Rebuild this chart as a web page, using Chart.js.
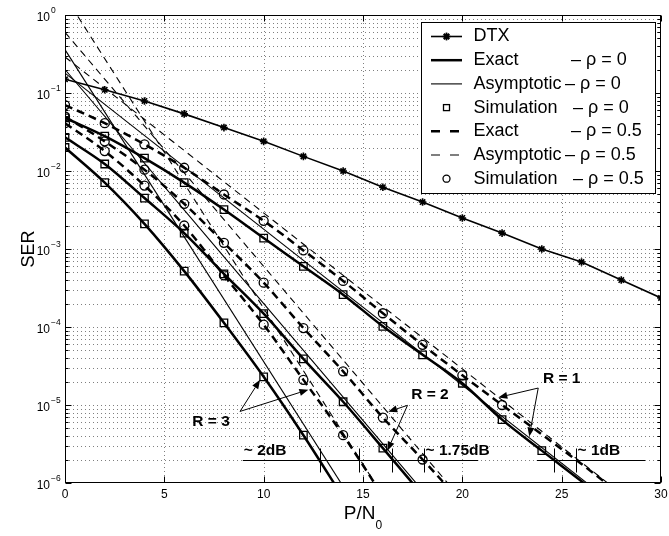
<!DOCTYPE html>
<html>
<head>
<meta charset="utf-8">
<script src="https://cdn.jsdelivr.net/npm/chart.js@4.4.1/dist/chart.umd.min.js"></script>
<style>
  html, body { margin: 0; padding: 0; background: #fff; }
  canvas { display: block; }
</style>
</head>
<body>
<canvas id="c" width="669" height="536"></canvas>
<script>
// ---- data -------------------------------------------------------------
// SNR grid in dB (2 dB steps)
const snrEven = [0, 2, 4, 6, 8, 10, 12, 14, 16, 18, 20, 22, 24, 26, 28, 30];

// DTX reference scheme
const serDtx = [0.15, 0.11, 0.079, 0.054, 0.036, 0.024, 0.0154, 0.0100, 0.0062, 0.0040,
                0.0025, 0.0016, 0.0010, 0.00068, 0.00040, 0.000236];

// Exact SER, rho = 0
const exactR1Rho0 = [0.048, 0.028, 0.0146, 0.0071, 0.0032, 0.00138, 6.0e-4, 2.6e-4, 1.02e-4,
                     4.4e-5, 1.9e-5, 6.5e-6, 2.6e-6, 1.05e-6, 4.2e-7];
const exactR2Rho0 = [0.027, 0.0123, 0.0045, 0.0016, 4.8e-4, 1.48e-4, 3.9e-5, 1.1e-5, 2.8e-6, 7.0e-7];
const exactR3Rho0 = [0.020, 0.0071, 0.0021, 5.2e-4, 1.13e-4, 2.3e-5, 4.1e-6, 6.5e-7];

// Exact SER, rho = 0.5
const exactR1Rho05 = [0.07, 0.041, 0.022, 0.011, 0.005, 0.0023, 9.6e-4, 3.9e-4, 1.5e-4,
                      5.9e-5, 2.4e-5, 1.0e-5, 4.2e-6, 1.75e-6, 7.0e-7];
const exactR2Rho05 = [0.05, 0.024, 0.0104, 0.0038, 1.2e-3, 3.7e-4, 9.7e-5, 2.7e-5, 6.9e-6, 2.0e-6, 5.5e-7];
const exactR3Rho05 = [0.041, 0.018, 0.0065, 0.0020, 4.6e-4, 1.07e-4, 2.1e-5, 4.1e-6, 6.8e-7];

// Monte-Carlo simulation points, rho = 0
const simR1Rho0 = [0.048, 0.028, 0.0146, 0.0071, 0.0032, 0.00138, 6.0e-4, 2.6e-4, 1.02e-4,
                   4.4e-5, 1.9e-5, 6.5e-6, 2.6e-6];
const simR2Rho0 = [0.027, 0.0123, 0.0045, 0.0016, 4.8e-4, 1.48e-4, 3.9e-5, 1.1e-5, 2.8e-6];
const simR3Rho0 = [0.020, 0.0071, 0.0021, 5.2e-4, 1.13e-4, 2.3e-5, 4.1e-6];

// Monte-Carlo simulation points, rho = 0.5
const simR1Rho05 = [0.07, 0.041, 0.022, 0.011, 0.005, 0.0023, 9.6e-4, 3.9e-4, 1.5e-4,
                    5.9e-5, 2.4e-5, 1.0e-5];
const simR2Rho05 = [0.05, 0.024, 0.0104, 0.0038, 1.2e-3, 3.7e-4, 9.7e-5, 2.7e-5, 6.9e-6, 2.0e-6];
const simR3Rho05 = [0.041, 0.018, 0.0065, 0.0020, 4.6e-4, 1.07e-4, 2.1e-5, 4.1e-6];

// High-SNR asymptotes (straight lines on the dB / log axes): end points
const asymR1Rho0Snr = [0, 28],  asymR1Rho0 = [0.18, 4.5e-7];
const asymR2Rho0Snr = [0, 19],  asymR2Rho0 = [0.20, 4.0e-7];
const asymR3Rho0Snr = [0, 15],  asymR3Rho0 = [0.36, 3.6e-7];
const asymR1Rho05Snr = [0, 29], asymR1Rho05 = [0.29, 4.6e-7];
const asymR2Rho05Snr = [0, 21], asymR2Rho05 = [0.60, 3.0e-7];
const asymR3Rho05Snr = [0, 17], asymR3Rho05 = [1.74, 2.75e-7];

// Axis ticks
const xTickValues = [0, 5, 10, 15, 20, 25, 30];
const yDecades = [1, 1e-1, 1e-2, 1e-3, 1e-4, 1e-5, 1e-6];
const yDecadeExp = ['0', '\u22121', '\u22122', '\u22123', '\u22124', '\u22125', '\u22126'];

// Power-gap markers at SER = 2e-6
const gapLevel = 2e-6;
const gap2dB = [12.86, 14.79];
const gap175dB = [16.47, 18.07];
const gap1dB = [24.6, 25.7];

// ---- helpers ----------------------------------------------------------
const pts = (xs, ys) => ys.map((v, i) => ({ x: xs[i], y: v }));
const FONT = '"Liberation Sans", Arial, Helvetica, sans-serif';

function curve(label, ys, xs, width, dash) {
  return {
    label, data: pts(xs, ys), showLine: true, borderColor: '#000', backgroundColor: '#000',
    borderWidth: width, borderDash: dash, pointRadius: 0, pointHoverRadius: 0,
    cubicInterpolationMode: 'monotone', fill: false
  };
}
function marks(label, ys, style, radius) {
  return {
    label, data: pts(snrEven, ys), showLine: false, pointStyle: style, pointRadius: radius,
    pointBorderColor: '#000', pointBackgroundColor: 'rgba(0,0,0,0)', pointBorderWidth: 1.3
  };
}

const datasets = [
  {
    label: 'DTX', data: pts(snrEven, serDtx), showLine: true, borderColor: '#000',
    borderWidth: 1.6, pointStyle: 'star', pointRadius: 3.8, pointBorderWidth: 1.6,
    pointBorderColor: '#000', pointBackgroundColor: '#000'
  },
  marks('Simulation ρ=0, R=1', simR1Rho0, 'rect', 5.3),
  marks('Simulation ρ=0, R=2', simR2Rho0, 'rect', 5.3),
  marks('Simulation ρ=0, R=3', simR3Rho0, 'rect', 5.3),
  marks('Simulation ρ=0.5, R=1', simR1Rho05, 'circle', 4.5),
  marks('Simulation ρ=0.5, R=2', simR2Rho05, 'circle', 4.5),
  marks('Simulation ρ=0.5, R=3', simR3Rho05, 'circle', 4.5),
  curve('Exact ρ=0, R=1', exactR1Rho0, snrEven, 2.5, []),
  curve('Exact ρ=0, R=2', exactR2Rho0, snrEven, 2.5, []),
  curve('Exact ρ=0, R=3', exactR3Rho0, snrEven, 2.5, []),
  curve('Asymptotic ρ=0, R=1', asymR1Rho0, asymR1Rho0Snr, 1.1, []),
  curve('Asymptotic ρ=0, R=2', asymR2Rho0, asymR2Rho0Snr, 1.1, []),
  curve('Asymptotic ρ=0, R=3', asymR3Rho0, asymR3Rho0Snr, 1.1, []),
  curve('Exact ρ=0.5, R=1', exactR1Rho05, snrEven, 2.5, [8, 5]),
  curve('Exact ρ=0.5, R=2', exactR2Rho05, snrEven, 2.5, [8, 5]),
  curve('Exact ρ=0.5, R=3', exactR3Rho05, snrEven, 2.5, [8, 5]),
  curve('Asymptotic ρ=0.5, R=1', asymR1Rho05, asymR1Rho05Snr, 1.1, [7, 5]),
  curve('Asymptotic ρ=0.5, R=2', asymR2Rho05, asymR2Rho05Snr, 1.1, [7, 5]),
  curve('Asymptotic ρ=0.5, R=3', asymR3Rho05, asymR3Rho05Snr, 1.1, [7, 5])
];

// ---- axes frame: dotted grid, inward ticks, labels -------------------
function yMinorValues() {
  const out = [];
  for (let e = -6; e < 0; e++) for (let m = 2; m <= 9; m++) out.push(m * Math.pow(10, e));
  return out;
}

const frame = {
  id: 'frame',
  beforeDatasetsDraw(chart) {
    const { ctx, chartArea: a, scales: { x, y } } = chart;
    ctx.save();
    ctx.strokeStyle = 'rgba(0,0,0,0.5)';
    ctx.lineWidth = 1;
    ctx.setLineDash([1, 3]);
    ctx.beginPath();
    xTickValues.forEach(v => {
      const p = Math.round(x.getPixelForValue(v)) + 0.5;
      if (p > a.left + 2 && p < a.right - 2) { ctx.moveTo(p, a.top); ctx.lineTo(p, a.bottom); }
    });
    yDecades.concat(yMinorValues()).forEach(v => {
      const p = Math.round(y.getPixelForValue(v)) + 0.5;
      if (p > a.top + 2 && p < a.bottom - 2) { ctx.moveTo(a.left, p); ctx.lineTo(a.right, p); }
    });
    ctx.stroke();
    ctx.restore();
  },
  afterDraw(chart) {
    const { ctx, chartArea: a, scales: { x, y } } = chart;
    const L = Math.round(a.left) + 0.5, R = Math.round(a.right) - 0.5;
    const T = Math.round(a.top) + 0.5, B = Math.round(a.bottom) - 0.5;
    ctx.save();
    ctx.strokeStyle = '#000';
    ctx.fillStyle = '#000';
    ctx.lineWidth = 1;
    ctx.setLineDash([]);
    ctx.strokeRect(L, T, R - L, B - T);

    ctx.beginPath();
    xTickValues.forEach(v => {
      const p = Math.round(x.getPixelForValue(v)) + 0.5;
      ctx.moveTo(p, B); ctx.lineTo(p, B - 6);
      ctx.moveTo(p, T); ctx.lineTo(p, T + 6);
    });
    yDecades.forEach(v => {
      const p = Math.round(y.getPixelForValue(v)) + 0.5;
      ctx.moveTo(L, p); ctx.lineTo(L + 6, p);
      ctx.moveTo(R, p); ctx.lineTo(R - 6, p);
    });
    yMinorValues().forEach(v => {
      const p = Math.round(y.getPixelForValue(v)) + 0.5;
      ctx.moveTo(L, p); ctx.lineTo(L + 3, p);
      ctx.moveTo(R, p); ctx.lineTo(R - 3, p);
    });
    ctx.stroke();

    // x tick labels
    ctx.font = '12px ' + FONT;
    ctx.textAlign = 'center';
    ctx.textBaseline = 'middle';
    xTickValues.forEach(v => ctx.fillText(String(v), x.getPixelForValue(v), a.bottom + 12));

    // y tick labels: 10 with superscript exponent
    yDecades.forEach((v, i) => {
      const p = y.getPixelForValue(v);
      ctx.font = '12px ' + FONT;
      ctx.textAlign = 'right';
      ctx.fillText('10', a.left - 15, p + 2.5);
      ctx.font = '8.5px ' + FONT;
      ctx.textAlign = 'left';
      ctx.fillText(yDecadeExp[i], a.left - 14, p - 4);
    });

    // axis titles
    ctx.font = '18px ' + FONT;
    ctx.textAlign = 'center';
    ctx.save();
    ctx.translate(29, (a.top + a.bottom) / 2);
    ctx.rotate(-Math.PI / 2);
    ctx.fillText('SER', 0, 0);
    ctx.restore();

    const cx = (a.left + a.right) / 2;
    ctx.font = '19px ' + FONT;
    ctx.textAlign = 'left';
    ctx.textBaseline = 'alphabetic';
    const w1 = ctx.measureText('P/N').width;
    ctx.font = '12px ' + FONT;
    const w2 = ctx.measureText('0').width;
    const x0 = cx - (w1 + w2) / 2;
    ctx.font = '19px ' + FONT;
    ctx.fillText('P/N', x0, 519);
    ctx.font = '12px ' + FONT;
    ctx.fillText('0', x0 + w1, 529);
    ctx.restore();
  }
};

// ---- annotations: R labels with arrows, power gap bars, legend --------
const rLabels = [
  { text: 'R = 3', at: [7.35, 6.15e-6], from: [8.81, 8.27e-6], to: [[9.82, 2.1e-5], [12.25, 1.57e-5]] },
  { text: 'R = 2', at: [18.37, 1.35e-5], from: [17.24, 9.9e-6], to: [[16.27, 8.2e-6], [16.23, 2.6e-6]] },
  { text: 'R = 1', at: [25.0, 2.15e-5], from: [23.82, 1.65e-5], to: [[21.81, 1.25e-5], [23.37, 3.95e-6]] }
];
const gapBars = [
  { text: '~ 2dB', span: [8.95, 16.0], marks: gap2dB, textAt: 9.0 },
  { text: '~ 1.75dB', span: [13.5, 20.8], marks: gap175dB, textAt: 18.15 },
  { text: '~ 1dB', span: [23.75, 29.2], marks: gap1dB, textAt: 25.8 }
];
const legendRows = [
  { label: 'DTX', suffix: '', kind: 'dtx' },
  { label: 'Exact', suffix: '\u2013 \u03c1 = 0', kind: 'thick', col: 571 },
  { label: 'Asymptotic', suffix: '\u2013 \u03c1 = 0', kind: 'thin', col: 565 },
  { label: 'Simulation', suffix: '\u2013 \u03c1 = 0', kind: 'square', col: 573 },
  { label: 'Exact', suffix: '\u2013 \u03c1 = 0.5', kind: 'thickDash', col: 571 },
  { label: 'Asymptotic', suffix: '\u2013 \u03c1 = 0.5', kind: 'thinDash', col: 565 },
  { label: 'Simulation', suffix: '\u2013 \u03c1 = 0.5', kind: 'circle', col: 573 }
];

function arrow(ctx, x1, y1, x2, y2) {
  const ang = Math.atan2(y2 - y1, x2 - x1), len = 9, half = 3.5;
  const bx = x2 - len * Math.cos(ang), by = y2 - len * Math.sin(ang);
  ctx.beginPath();
  ctx.moveTo(x1, y1); ctx.lineTo(bx, by);
  ctx.stroke();
  ctx.beginPath();
  ctx.moveTo(x2, y2);
  ctx.lineTo(bx + half * Math.sin(ang), by - half * Math.cos(ang));
  ctx.lineTo(bx - half * Math.sin(ang), by + half * Math.cos(ang));
  ctx.closePath();
  ctx.fill();
}

const annotations = {
  id: 'annotations',
  afterDraw(chart) {
    const { ctx, chartArea: a, scales: { x, y } } = chart;
    const X = v => x.getPixelForValue(v), Y = v => y.getPixelForValue(v);
    ctx.save();
    ctx.strokeStyle = '#000';
    ctx.fillStyle = '#000';
    ctx.lineWidth = 1;
    ctx.setLineDash([]);

    // power gap bars
    const gy = Math.round(Y(gapLevel)) + 0.5;
    ctx.beginPath();
    gapBars.forEach(b => {
      ctx.moveTo(X(b.span[0]), gy); ctx.lineTo(X(b.span[1]), gy);
      b.marks.forEach(m => {
        const px = Math.round(X(m)) + 0.5;
        ctx.moveTo(px, gy - 12); ctx.lineTo(px, gy + 12);
      });
    });
    ctx.stroke();
    ctx.font = 'bold 15.5px ' + FONT;
    ctx.textAlign = 'left';
    ctx.textBaseline = 'middle';
    gapBars.forEach(b => ctx.fillText(b.text, X(b.textAt), gy - 10));

    // R labels and arrows
    rLabels.forEach(r => {
      ctx.textAlign = 'center';
      ctx.fillText(r.text, X(r.at[0]), Y(r.at[1]));
      r.to.forEach(t => arrow(ctx, X(r.from[0]), Y(r.from[1]), X(t[0]), Y(t[1])));
    });

    // legend box
    const bx = a.right - 240, by = a.top + 7, bw = 234, bh = 171;
    ctx.fillStyle = '#fff';
    ctx.fillRect(bx, by, bw, bh);
    ctx.strokeStyle = '#000';
    ctx.lineWidth = 1;
    ctx.strokeRect(Math.round(bx) + 0.5, Math.round(by) + 0.5, bw, bh);
    ctx.fillStyle = '#000';
    ctx.font = '18px ' + FONT;
    ctx.textAlign = 'left';
    ctx.textBaseline = 'middle';
    const sx0 = bx + 10, sx1 = bx + 41, sxc = (sx0 + sx1) / 2;
    legendRows.forEach((row, i) => {
      const ry = by + 14.5 + i * 23.7;
      ctx.save();
      ctx.beginPath();
      if (row.kind === 'dtx' || row.kind === 'thick' || row.kind === 'thin' ||
          row.kind === 'thickDash' || row.kind === 'thinDash') {
        ctx.lineWidth = (row.kind === 'thick' || row.kind === 'thickDash') ? 2.5 :
                        (row.kind === 'dtx' ? 1.6 : 1.1);
        ctx.setLineDash(row.kind === 'thickDash' || row.kind === 'thinDash' ? [9, 10] : []);
        ctx.moveTo(sx0, ry); ctx.lineTo(sx1, ry);
        ctx.stroke();
      }
      ctx.setLineDash([]);
      if (row.kind === 'dtx') {
        Chart.helpers.drawPoint(ctx, { pointStyle: 'star', radius: 3.8, borderWidth: 1.6 }, sxc, ry);
        ctx.lineWidth = 1.6;
        ctx.stroke();
      } else if (row.kind === 'square') {
        ctx.lineWidth = 1.3;
        ctx.strokeRect(sxc - 3, ry - 3, 6, 6);
      } else if (row.kind === 'circle') {
        ctx.lineWidth = 1.3;
        ctx.beginPath();
        ctx.arc(sxc, ry, 3.5, 0, Math.PI * 2);
        ctx.stroke();
      }
      ctx.restore();
      ctx.fillText(row.label, bx + 52.5, ry);
      if (row.suffix) ctx.fillText(row.suffix, row.col, ry);
    });
    ctx.restore();
  }
};

new Chart(document.getElementById('c'), {
  type: 'scatter',
  data: { datasets },
  options: {
    responsive: false,
    animation: false,
    devicePixelRatio: 1,
    layout: { padding: { left: 65, top: 15, right: 8, bottom: 53 } },
    scales: {
      x: { type: 'linear', min: 0, max: 30, display: false },
      y: { type: 'logarithmic', min: 1e-6, max: 1, display: false }
    },
    plugins: { legend: { display: false }, tooltip: { enabled: false } },
    events: []
  },
  plugins: [frame, annotations]
});
</script>
</body>
</html>
